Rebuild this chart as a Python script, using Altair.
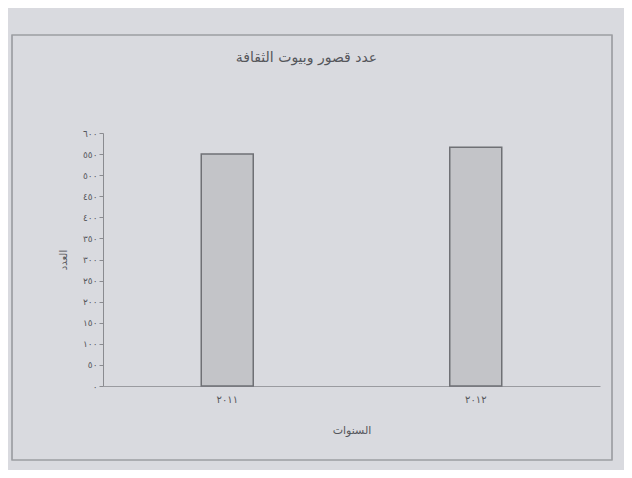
import altair as alt
import pandas as pd

# ---- data ----
years = ["٢٠١١", "٢٠١٢"]
counts = [550, 566]

tick_values = [0, 50, 100, 150, 200, 250, 300, 350, 400, 450, 500, 550, 600]
tick_labels = ["٠", "٥٠", "١٠٠", "١٥٠", "٢٠٠", "٢٥٠", "٣٠٠", "٣٥٠", "٤٠٠", "٤٥٠", "٥٠٠", "٥٥٠", "٦٠٠"]

title_text = "عدد قصور وبيوت الثقافة"
x_title = "السنوات"
y_title = "العدد"

df = pd.DataFrame({"year": years, "count": counts})

label_expr = " : ".join(
    f"datum.value == {v} ? '{l}'" for v, l in zip(tick_values, tick_labels)
) + " : ''"

FONT = "DejaVu Sans"
TXT = "#55565b"
PAPER = "#d9dadf"

W, H = 497, 253

bars = alt.Chart(df).mark_bar(
    size=52, fill="#c3c4c8", stroke="#6f7075", strokeWidth=1.5
).encode(
    x=alt.X("year:N", sort=years, title=x_title,
            axis=alt.Axis(labelAngle=0, labelFontSize=10, labelColor=TXT,
                          titleFontSize=11, titleColor=TXT, titleFontWeight="normal",
                          titlePadding=20, labelPadding=8, ticks=False,
                          domainColor="#9a9ba0", titleFont=FONT, labelFont=FONT)),
    y=alt.Y("count:Q", title=y_title,
            scale=alt.Scale(domain=[0, 600], nice=False),
            axis=alt.Axis(values=tick_values, labelExpr=label_expr, grid=False,
                          labelFontSize=9, labelColor=TXT, tickColor="#8a8b90",
                          tickSize=4, domainColor="#8a8b90",
                          titleFontSize=10, titleColor=TXT, titleFontWeight="normal",
                          titlePadding=14, titleFont=FONT, labelFont=FONT)),
)

frame = alt.Chart(df).mark_rect(
    fill=None, stroke="#9c9da2", strokeWidth=1.2
).encode(
    x=alt.value(-91), x2=alt.value(509), y=alt.value(-98), y2=alt.value(327)
)

chart = alt.layer(frame, bars).properties(
    width=W, height=H,
    title=alt.TitleParams(title_text, font=FONT, fontSize=14, fontWeight="normal",
                          color=TXT, offset=-31, dx=-45, anchor="middle"),
    autosize=alt.AutoSizeParams(type="none"),
    padding={"left": 95, "top": 125, "right": 24, "bottom": 84},
    background=PAPER,
).configure_view(stroke=None)

chart.save("out.html", embed_options={"renderer": "svg", "actions": False})
